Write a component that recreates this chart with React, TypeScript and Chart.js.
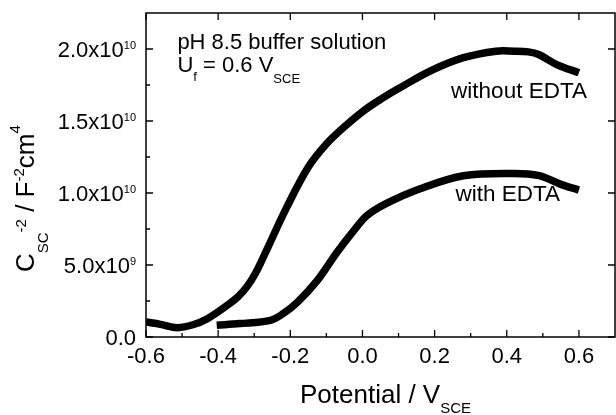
import React, { useEffect, useRef } from "react";
import { Chart, registerables } from "chart.js";

Chart.register(...registerables);

// ---- data ----
const potentialWithout = [-0.6, -0.56, -0.513, -0.47, -0.43, -0.375, -0.345, -0.32, -0.295, -0.27, -0.21, -0.15, -0.1, -0.05, 0.0, 0.05, 0.1, 0.19, 0.28, 0.37, 0.42, 0.46, 0.49, 0.54, 0.6];
const cscWithout = [1.04e9, 0.88e9, 0.65e9, 0.85e9, 1.27e9, 2.2e9, 2.8e9, 3.5e9, 4.5e9, 5.8e9, 9.0e9, 11.8e9, 13.4e9, 14.6e9, 15.65e9, 16.5e9, 17.25e9, 18.5e9, 19.4e9, 19.85e9, 19.85e9, 19.8e9, 19.6e9, 18.9e9, 18.35e9];

const potentialWith = [-0.404, -0.34, -0.255, -0.22, -0.18, -0.125, -0.07, -0.024, 0.013, 0.068, 0.16, 0.28, 0.42, 0.49, 0.55, 0.6];
const cscWith = [0.81e9, 0.93e9, 1.16e9, 1.62e9, 2.42e9, 3.93e9, 5.9e9, 7.39e9, 8.45e9, 9.3e9, 10.3e9, 11.2e9, 11.36e9, 11.2e9, 10.6e9, 10.2e9];

const xTickValues = [-0.6, -0.4, -0.2, 0.0, 0.2, 0.4, 0.6];
const xTickLabels = ["-0.6", "-0.4", "-0.2", "0.0", "0.2", "0.4", "0.6"];
const xMinorValues = [-0.5, -0.3, -0.1, 0.1, 0.3, 0.5];
const yTickValues = [0, 5e9, 1e10, 1.5e10, 2e10];
const yTickBase = ["0.0", "5.0x10", "1.0x10", "1.5x10", "2.0x10"];
const yTickExp = ["", "9", "10", "10", "10"];
const yMinorValues = [2.5e9, 7.5e9, 1.25e10, 1.75e10];

const X_MIN = -0.6;
const X_MAX = 0.7;
const Y_MIN = 0;
const Y_MAX = 2.25e10;

const FONT = '"Liberation Sans", Arial, Helvetica, sans-serif';

type Seg = { t: string; size: number; dy?: number };

function drawRich(ctx: CanvasRenderingContext2D, x: number, y: number, segs: Seg[]) {
  let cx = x;
  for (const s of segs) {
    ctx.font = `${s.size}px ${FONT}`;
    ctx.fillText(s.t, cx, y + (s.dy || 0));
    cx += ctx.measureText(s.t).width;
  }
  return cx - x;
}

function measureRich(ctx: CanvasRenderingContext2D, segs: Seg[]) {
  let w = 0;
  for (const s of segs) {
    ctx.font = `${s.size}px ${FONT}`;
    w += ctx.measureText(s.t).width;
  }
  return w;
}

const customPlugin = {
  id: "customAxes",
  beforeDatasetsDraw(chart: any) {
    const ctx: CanvasRenderingContext2D = chart.ctx;
    const xs = chart.scales.x;
    const ys = chart.scales.y;
    ctx.save();
    ctx.fillStyle = "#000";
    ctx.textAlign = "left";
    ctx.textBaseline = "alphabetic";
    drawRich(ctx, xs.getPixelForValue(-0.513), ys.getPixelForValue(2.0e10), [{ t: "pH 8.5 buffer solution", size: 22 }]);
    drawRich(ctx, xs.getPixelForValue(-0.513), ys.getPixelForValue(1.837e10), [
      { t: "U", size: 22 },
      { t: "f", size: 13, dy: 9 },
      { t: " = 0.6 V", size: 22 },
      { t: "SCE", size: 13, dy: 11 },
    ]);
    drawRich(ctx, xs.getPixelForValue(0.2457), ys.getPixelForValue(1.663e10), [{ t: "without EDTA", size: 22.5 }]);
    drawRich(ctx, xs.getPixelForValue(0.2576), ys.getPixelForValue(0.947e10), [{ t: "with EDTA", size: 22.5 }]);
    ctx.restore();
  },
  afterDatasetsDraw(chart: any) {
    const ctx: CanvasRenderingContext2D = chart.ctx;
    const xs = chart.scales.x;
    const ys = chart.scales.y;
    const a = chart.chartArea;
    ctx.save();
    ctx.strokeStyle = "#000";
    ctx.fillStyle = "#000";
    ctx.lineWidth = 1.5;
    ctx.strokeRect(a.left, a.top, a.right - a.left, a.bottom - a.top);

    ctx.lineWidth = 1.3;
    ctx.beginPath();
    const major = 7;
    const minor = 4;
    for (const v of xTickValues) {
      const px = xs.getPixelForValue(v);
      ctx.moveTo(px, a.bottom);
      ctx.lineTo(px, a.bottom - major);
      ctx.moveTo(px, a.top);
      ctx.lineTo(px, a.top + major);
    }
    for (const v of xMinorValues) {
      const px = xs.getPixelForValue(v);
      ctx.moveTo(px, a.bottom);
      ctx.lineTo(px, a.bottom - minor);
    }
    for (const v of yTickValues) {
      const py = ys.getPixelForValue(v);
      ctx.moveTo(a.left, py);
      ctx.lineTo(a.left + major, py);
      ctx.moveTo(a.right, py);
      ctx.lineTo(a.right - major, py);
    }
    for (const v of yMinorValues) {
      const py = ys.getPixelForValue(v);
      ctx.moveTo(a.left, py);
      ctx.lineTo(a.left + minor, py);
    }
    ctx.stroke();

    ctx.textBaseline = "alphabetic";
    ctx.textAlign = "center";
    ctx.font = `22px ${FONT}`;
    xTickValues.forEach((v, i) => {
      ctx.fillText(xTickLabels[i], xs.getPixelForValue(v), a.bottom + 26);
    });

    ctx.textAlign = "left";
    yTickValues.forEach((v, i) => {
      const segs: Seg[] = [{ t: yTickBase[i], size: 22 }];
      if (yTickExp[i]) segs.push({ t: yTickExp[i], size: 11, dy: -8 });
      const w = measureRich(ctx, segs);
      drawRich(ctx, a.left - 10 - w, ys.getPixelForValue(v) + 7.5, segs);
    });

    drawRich(ctx, a.left + 154, a.bottom + 66, [
      { t: "Potential / V", size: 26 },
      { t: "SCE", size: 15, dy: 10 },
    ]);

    ctx.save();
    ctx.translate(33.5, a.bottom - 65);
    ctx.rotate(-Math.PI / 2);
    drawRich(ctx, 0, 0, [
      { t: "C", size: 26 },
      { t: "SC", size: 15, dy: 14 },
      { t: "-2", size: 15, dy: -8 },
      { t: " / F", size: 26 },
      { t: "-2", size: 15, dy: -10 },
      { t: "cm", size: 26 },
      { t: "4", size: 15, dy: -14 },
    ]);
    ctx.restore();

    ctx.restore();
  },
};

export default function App() {
  const ref = useRef<HTMLCanvasElement | null>(null);
  useEffect(() => {
    if (!ref.current) return;
    const chart = new Chart(ref.current, {
      type: "line",
      data: {
        datasets: [
          {
            label: "without EDTA",
            data: potentialWithout.map((x, i) => ({ x, y: cscWithout[i] })),
            borderColor: "#000",
            borderWidth: 7.5,
            pointRadius: 0,
            tension: 0.35,
            borderCapStyle: "butt",
            borderJoinStyle: "round",
            fill: false,
          },
          {
            label: "with EDTA",
            data: potentialWith.map((x, i) => ({ x, y: cscWith[i] })),
            borderColor: "#000",
            borderWidth: 7.5,
            pointRadius: 0,
            tension: 0.35,
            borderCapStyle: "butt",
            borderJoinStyle: "round",
            fill: false,
          },
        ],
      },
      options: {
        animation: false,
        responsive: false,
        devicePixelRatio: 1,
        layout: { padding: { left: 146, top: 13, right: 1, bottom: 78 } },
        plugins: { legend: { display: false }, tooltip: { enabled: false } },
        scales: {
          x: { type: "linear", min: X_MIN, max: X_MAX, display: false },
          y: { type: "linear", min: Y_MIN, max: Y_MAX, display: false },
        },
      },
      plugins: [customPlugin],
    } as any);
    return () => chart.destroy();
  }, []);
  return (
    <div style={{ position: "absolute", left: 0, top: 0, width: 616, height: 415, background: "#fff" }}>
      <canvas ref={ref} width={616} height={415} style={{ display: "block" }} />
    </div>
  );
}
